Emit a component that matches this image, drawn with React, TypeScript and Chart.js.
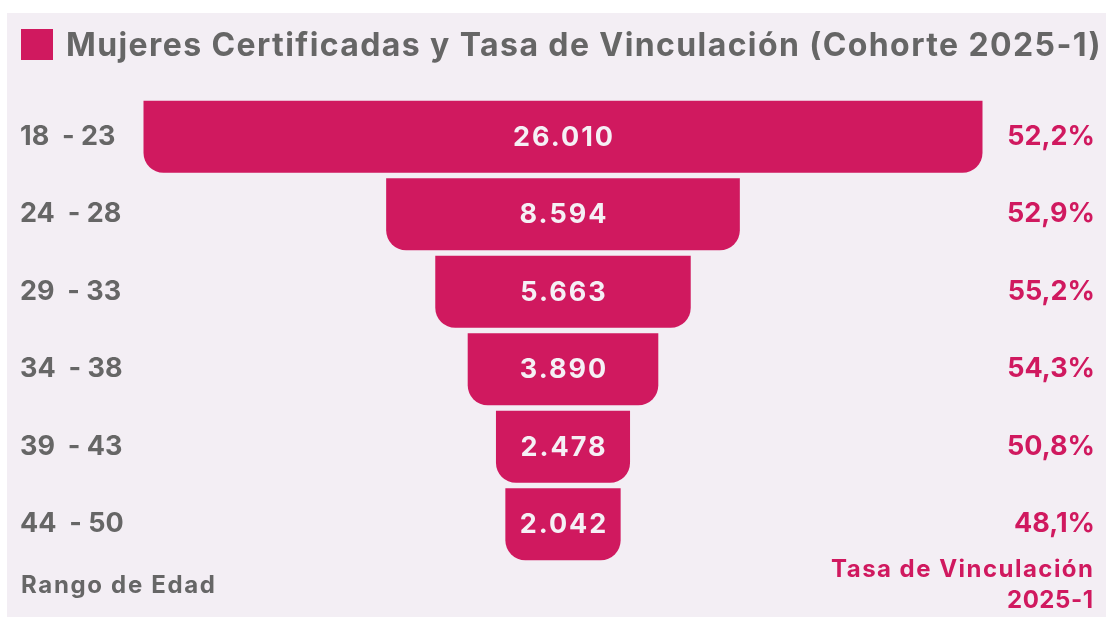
import React, { useEffect, useRef } from "react";
import { Chart, registerables } from "chart.js";

Chart.register(...registerables);

// ---------- data ----------
const TITLE = "Mujeres Certificadas y Tasa de Vinculación (Cohorte 2025-1)";
const AGE_RANGES = ["18  - 23", "24  - 28", "29  - 33", "34  - 38", "39  - 43", "44  - 50"];
const WOMEN_CERTIFIED = [26010, 8594, 5663, 3890, 2478, 2042];
const LINK_RATE = [52.2, 52.9, 55.2, 54.3, 50.8, 48.1];
const AXIS_LEFT_TITLE = "Rango de Edad";
const AXIS_RIGHT_TITLE = ["Tasa de Vinculación", "2025-1"];

// ---------- style ----------
const W = 1106;
const H = 617;
const PINK = "#d0195f";
const GRAY = "#666666";
const PANEL = "#f3eef4";
const FONT = "Inter";
const FUNNEL_EXP = 0.78; // funnel display scale (compressed)

const fmtInt = (v: number) => String(v).replace(/\B(?=(\d{3})+(?!\d))/g, ".");
const fmtPct = (v: number) => v.toFixed(1).replace(".", ",") + "%";

const halfWidths = WOMEN_CERTIFIED.map((v) => Math.pow(v, FUNNEL_EXP) / 2);
const HALF = Math.max(...halfWidths) * (846 / 839);

function drawFit(
  ctx: CanvasRenderingContext2D,
  text: string,
  xLeft: number,
  y: number,
  target: number
) {
  (ctx as any).letterSpacing = "0px";
  const w0 = ctx.measureText(text).width;
  const ls = (target - w0) / Math.max(1, text.length - 1);
  (ctx as any).letterSpacing = ls + "px";
  ctx.textAlign = "left";
  ctx.fillText(text, xLeft, y);
  (ctx as any).letterSpacing = "0px";
}

const decorPlugin = {
  id: "decor",
  beforeDraw(chart: any) {
    const ctx = chart.ctx as CanvasRenderingContext2D;
    ctx.save();
    ctx.fillStyle = "#ffffff";
    ctx.fillRect(0, 0, W, H);
    ctx.fillStyle = PANEL;
    ctx.fillRect(7, 13, W - 7, H - 13);
    ctx.restore();
  },
  afterDatasetsDraw(chart: any) {
    const ctx = chart.ctx as CanvasRenderingContext2D;
    const meta = chart.getDatasetMeta(0);
    ctx.save();
    ctx.font = `700 27px ${FONT}`;
    ctx.fillStyle = "#f5f0f5";
    ctx.textAlign = "center";
    ctx.textBaseline = "middle";
    const ls = 2;
    (ctx as any).letterSpacing = ls + "px";
    meta.data.forEach((bar: any, i: number) => {
      const cx = (bar.x + bar.base) / 2;
      ctx.fillText(fmtInt(WOMEN_CERTIFIED[i]), cx + ls / 2, bar.y + 1);
    });
    ctx.restore();
  },
  afterDraw(chart: any) {
    const ctx = chart.ctx as CanvasRenderingContext2D;
    ctx.save();
    // title marker
    ctx.fillStyle = PINK;
    ctx.fillRect(21, 29, 32, 31);
    // title
    ctx.fillStyle = GRAY;
    ctx.textBaseline = "alphabetic";
    ctx.font = `700 32px ${FONT}`;
    drawFit(ctx, TITLE, 66, 56, 1034);
    // bottom-left axis title
    ctx.font = `700 24px ${FONT}`;
    drawFit(ctx, AXIS_LEFT_TITLE, 21, 593, 194);
    // bottom-right axis title
    ctx.fillStyle = PINK;
    drawFit(ctx, AXIS_RIGHT_TITLE[0], 831, 577, 262);
    drawFit(ctx, AXIS_RIGHT_TITLE[1], 1007, 608, 86);
    ctx.restore();
  },
};

export default function App() {
  const ref = useRef<HTMLCanvasElement | null>(null);

  useEffect(() => {
    if (!ref.current) return;
    const chart = new Chart(ref.current, {
      type: "bar",
      data: {
        labels: AGE_RANGES,
        datasets: [
          {
            label: TITLE,
            data: halfWidths.map((h) => [-h, h]) as any,
            backgroundColor: PINK,
            borderSkipped: false,
            borderRadius: { topLeft: 0, topRight: 0, bottomLeft: 20, bottomRight: 20 },
            barPercentage: 0.93,
            categoryPercentage: 1,
          },
        ],
      },
      options: {
        indexAxis: "y",
        responsive: false,
        animation: false,
        layout: { padding: { left: 20, right: 11, top: 98, bottom: 54 } },
        plugins: {
          legend: { display: false },
          tooltip: { enabled: false },
          title: { display: false },
        },
        scales: {
          x: { type: "linear", min: -HALF, max: HALF, display: false },
          y: {
            type: "category",
            position: "left",
            grid: { display: false },
            border: { display: false },
            ticks: {
              color: GRAY,
              font: { family: FONT, size: 27, weight: "700" as any },
              crossAlign: "far",
              padding: 0,
            },
            afterFit: (s: any) => {
              s.width = 120;
            },
          },
          y2: {
            type: "category",
            labels: LINK_RATE.map(fmtPct),
            position: "right",
            offset: true,
            grid: { display: false },
            border: { display: false },
            ticks: {
              color: PINK,
              font: { family: FONT, size: 27, weight: "700" as any },
              crossAlign: "far",
              padding: 0,
            },
            afterFit: (s: any) => {
              s.width = 109;
            },
          },
        } as any,
      },
      plugins: [decorPlugin],
    });
    return () => chart.destroy();
  }, []);

  return (
    <div style={{ position: "absolute", left: 0, top: 0, width: W, height: H }}>
      <canvas ref={ref} width={W} height={H} style={{ display: "block" }} />
    </div>
  );
}
